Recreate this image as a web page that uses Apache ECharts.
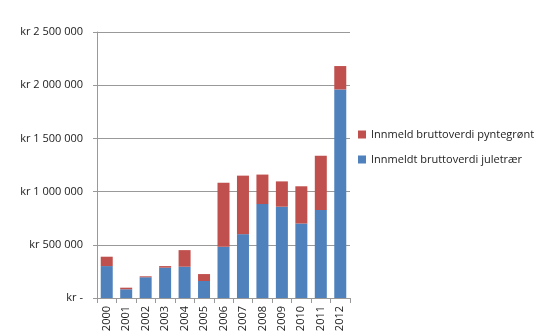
<!DOCTYPE html>
<html><head><meta charset="utf-8">
<script src="https://cdn.jsdelivr.net/npm/echarts@6/dist/echarts.min.js"></script>
<style>html,body{margin:0;padding:0;background:#fff}#c{width:536px;height:335px}</style>
</head><body><div id="c"></div>
<script>
const years = ['2000','2001','2002','2003','2004','2005','2006','2007','2008','2009','2010','2011','2012'];
const juletraer = [300000, 82000, 195000, 285000, 294000, 160000, 482000, 600000, 883000, 858000, 700000, 827000, 1960000];
const totals = [388000, 97000, 204000, 300000, 450000, 225000, 1084000, 1150000, 1160000, 1096000, 1050000, 1337000, 2180000];
const pyntegront = totals.map((t, i) => t - juletraer[i]);
const nameBlue = 'Innmeldt bruttoverdi juletrær';
const nameRed = 'Innmeld bruttoverdi pyntegrønt';
const yTicks = [0, 500000, 1000000, 1500000, 2000000, 2500000];

function fmt(v){
  if (v === 0) return 'kr -';
  return 'kr ' + String(v).replace(/\B(?=(\d{3})+(?!\d))/g, ' ');
}
const chart = echarts.init(document.getElementById('c'));
const font = 'Open Sans, Liberation Sans, sans-serif';
chart.setOption({
  animation: false,
  grid: {left: 97, right: 186, top: 32, bottom: 37, containLabel: false},
  legend: {
    orient: 'vertical', left: 353, top: 124, itemWidth: 8, itemHeight: 8, itemGap: 14,
    icon: 'rect', data: [nameRed, nameBlue],
    textStyle: {fontSize: 11, color: '#222', fontFamily: font}
  },
  xAxis: {
    type: 'category', data: years,
    axisLine: {lineStyle: {color: '#999'}},
    axisTick: {show: true, length: 5, lineStyle: {color: '#999'}},
    axisLabel: {rotate: 90, fontSize: 11, color: '#222', fontFamily: font, margin: 8}
  },
  yAxis: {
    type: 'value', min: 0, max: 2500000, interval: 500000,
    axisLine: {show: true, lineStyle: {color: '#999'}},
    axisTick: {show: true, length: 4, lineStyle: {color: '#999'}},
    splitLine: {lineStyle: {color: '#999'}},
    axisLabel: {formatter: v => fmt(v), fontSize: 11, color: '#222', fontFamily: font, margin: 14}
  },
  series: [
    {name: nameBlue, type: 'bar', stack: 's', data: juletraer, barWidth: 12, itemStyle: {color: '#4F81BD'}},
    {name: nameRed, type: 'bar', stack: 's', data: pyntegront, barWidth: 12, itemStyle: {color: '#C0504D'}}
  ]
});
</script></body></html>
